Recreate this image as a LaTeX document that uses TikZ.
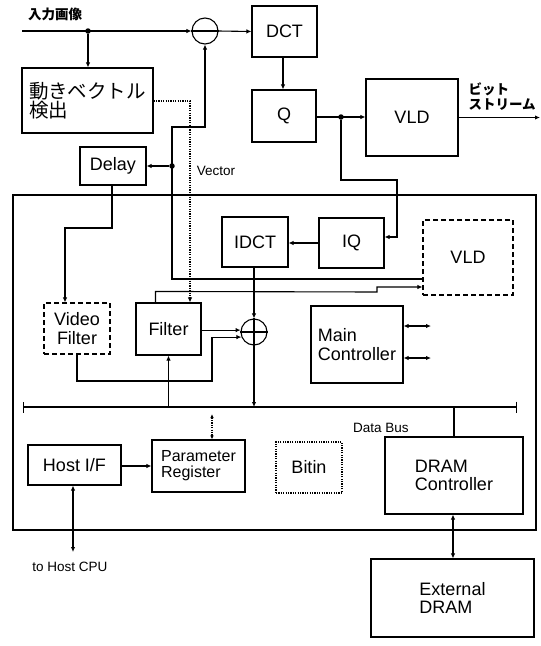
\documentclass[tikz,border=0pt]{standalone}
\usepackage{fontspec}
\setmainfont{Liberation Sans}
\newfontfamily\jpfont{Noto Sans CJK JP}
\usetikzlibrary{arrows.meta,calc}
\begin{document}
\begin{tikzpicture}[x=1pt,y=-1pt, line width=1.1pt,
  >={Latex[length=5pt,width=4.5pt]},
  box/.style={draw, inner sep=0pt, align=center, font=\fontsize{18}{18.5}\selectfont},
  lbox/.style={box, align=left},
  dbox/.style={box, dash pattern=on 5pt off 3pt},
  obox/.style={box, dash pattern=on 1.2pt off 1.2pt},
  circ/.style={draw, circle, minimum size=26pt, inner sep=0pt},
  jdot/.style={circle, fill, inner sep=0pt, minimum size=5.5pt},
  lbl/.style={inner sep=0pt, font=\fontsize{13.5}{15}\selectfont},
  jlbl/.style={inner sep=0pt, align=left, font=\jpfont\bfseries\fontsize{13.5}{15}\selectfont},
  dotl/.style={dash pattern=on 1.2pt off 1.2pt}]
\useasboundingbox (0,0) rectangle (541,646);

% outer chip box
\node[draw, minimum width=523pt, minimum height=335pt, inner sep=0pt] (chip) at (274.5,362.5) {};

% top row
\node[jlbl] (intxt) at (55,14) {入力画像};
\node[circ] (sub) at (205,31) {};
\draw (sub.west) -- (sub.east);
\node[box, minimum width=65pt, minimum height=51pt] (dct) at (284.5,31.5) {DCT};
\node[box, minimum width=64pt, minimum height=52pt] (q) at (284,116) {Q};
\node[box, minimum width=92pt, minimum height=77pt] (vld) at (412,117.5) {VLD};
\node[jlbl, anchor=west] (bs) at (468,97) {ビット\\ストリーム};
\node[box, align=left, minimum width=131pt, minimum height=65pt,
  font=\jpfont\fontsize{19.5}{18}\selectfont] (mv) at (87.5,100.5) {動きベクトル\\検出};
\node[box, minimum width=66pt, minimum height=38pt] (delay) at (113,166) {Delay};
\node[lbl] (vec) at (216,171) {Vector};

% inside chip
\node[box, minimum width=66pt, minimum height=50pt] (idct) at (255,242) {IDCT};
\node[box, minimum width=65pt, minimum height=50pt] (iq) at (351.5,243) {IQ};
\node[dbox, minimum width=90pt, minimum height=75pt] (vld2) at (468,257.5) {VLD};
\node[dbox, minimum width=66pt, minimum height=51pt] (vfilt) at (77,328.5) {Video\\Filter};
\node[box, minimum width=65pt, minimum height=52pt] (filt) at (168.5,329) {Filter};
\node[circ] (add) at (254,332) {};
\draw (add.west) -- (add.east) (add.north) -- (add.south);
\node[lbox, minimum width=92pt, minimum height=77pt, font=\fontsize{18}{19}\selectfont] (mc) at (357,344.5) {Main\\Controller};

% data bus
\coordinate (busL) at (23,407);
\coordinate (busR) at (517,407);
\draw[line width=1.4pt, {Bar[width=11pt]-Bar[width=11pt]}] (busL) -- (busR);
\node[lbl] (dbus) at (381,428) {Data Bus};

\node[box, minimum width=93pt, minimum height=40pt] (hostif) at (74.5,465) {Host I/F};
\node[lbox, minimum width=93pt, minimum height=52pt, font=\fontsize{16}{16}\selectfont] (param) at (198.5,466) {Parameter\\Register};
\node[obox, minimum width=66pt, minimum height=51pt] (bitin) at (309,467.5) {Bitin};
\node[lbox, minimum width=138pt, minimum height=77pt] (dramc) at (454,475.5) {DRAM\\Controller};
\node[lbox, minimum width=163pt, minimum height=78pt] (ext) at (452.5,598) {External\\DRAM};
\node[lbl] (cpu) at (70,567) {to Host CPU};

% ---- connectors ----
\coordinate (inp) at (22,31);
\node[jdot] (jin) at (88,31) {};
\draw[->] (inp) -- (sub.west);
\draw[->] (jin) -- (jin |- mv.north);
\draw[->] (sub.east) -- (dct.west);
\draw[->] (dct.south -| 283,0) -- (283,0 |- q.north);
\draw[->] (q.east |- 0,117) -- (vld.west |- 0,117);
\node[jdot] (jq) at (341,117) {};
\coordinate (bsend) at (540,117.5);
\draw[->] (vld.east) -- (bsend);
\draw[->] (jq) -- (341,180) -- (397,180) -- (397,237) -- (iq.east |- 0,237);
\draw[->] (iq.west) -- (idct.east |- iq.west);
\draw[->] (idct.south -| add.north) -- (add.north);

% prediction loop
\draw[->] (vld2.west |- 0,279) -- (172,279) -- (172,127) -- (205,127) -- (sub.south);
\node[jdot] (jd) at (172,166) {};
\draw[->] (jd) -- (delay.east |- jd);

% motion vector dotted
\draw[dotl, ->] (mv.east |- 0,101) -- (190,101) -- (190,0 |- filt.north);

% filter to VLD
\draw[->] ($(filt.north west)+(20,0)$) -- ++(0,-11) -- (377,292) -- (377,287) -- (vld2.west |- 0,287);

% delay to video filter
\draw[->] (delay.south -| 112,0) -- (112,228) -- (65,228) -- (65,0 |- vfilt.north);

% into adder
\draw[->] (filt.east |- add.172) -- (add.172);
\draw[->] (vfilt.south) -- (77,381) -- (212,381) |- (add.202);

% bus connections
\draw[->] (filt.south |- busL) -- (filt.south);
\draw[->] (add.south) -- (add.south |- busL);
\draw (dramc.north) -- (dramc.north |- busL);

% main controller ports
\coordinate (mc1) at (431,326);
\coordinate (mc2) at (431,358);
\draw[<->] (mc.east |- mc1) -- (mc1);
\draw[<->] (mc.east |- mc2) -- (mc2);

% host / param
\draw[->] (hostif.east |- 0,466) -- (param.west |- 0,466);
\coordinate (hcpu) at (73,552);
\draw[<->] (hostif.south -| hcpu) -- (hcpu);
\coordinate (pbus) at (212,414);
\draw[dotl, <->, >={Latex[length=4pt,width=3.5pt]}] (pbus) -- (pbus |- param.north);

% DRAM
\draw[<->] (dramc.south -| 453,0) -- (453,0 |- ext.north);
\end{tikzpicture}
\end{document}
